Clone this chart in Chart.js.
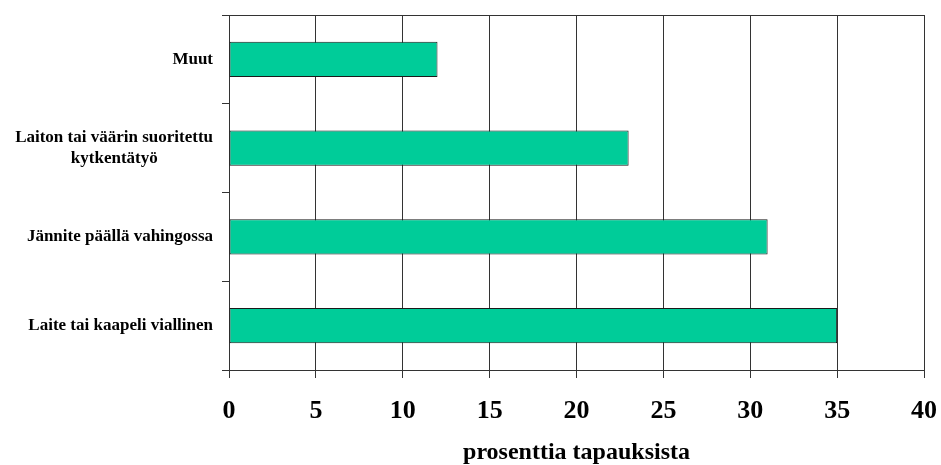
<!DOCTYPE html>
<html>
<head>
<meta charset="utf-8">
<script src="https://cdn.jsdelivr.net/npm/chart.js@4.4.1/dist/chart.umd.min.js"></script>
<style>
  html,body{margin:0;padding:0;background:#fff;}
  #wrap{width:941px;height:465px;}
</style>
</head>
<body>
<div id="wrap"><canvas id="c" width="941" height="465"></canvas></div>
<script>
// data
const categories = [
  ['Muut'],
  ['Laiton tai väärin suoritettu', 'kytkentätyö'],
  ['Jännite päällä vahingossa'],
  ['Laite tai kaapeli viallinen']
];
const values = [12, 23, 31, 35];
const xTicks = [0, 5, 10, 15, 20, 25, 30, 35, 40];
const xTitle = 'prosenttia tapauksista';

const FONT = "'Liberation Serif', 'Times New Roman', serif";
const labelFont = 'bold 17px ' + FONT;

// center shorter lines under the longest one (labels are right aligned)
const mctx = document.createElement('canvas').getContext('2d');
mctx.font = labelFont;
const nbspW = mctx.measureText('\u00a0').width || 1;
const labels = categories.map(lines=>{
  if (lines.length < 2) return lines[0];
  const w = lines.map(l=>mctx.measureText(l).width);
  const max = Math.max(...w);
  return lines.map((l,i)=>l + '\u00a0'.repeat(Math.round((max - w[i]) / 2 / nbspW)));
});

// top border of plot area
const frame = {
  id:'frame',
  afterDraw(chart){
    const {ctx, chartArea:a} = chart;
    ctx.save();
    ctx.strokeStyle = '#333'; ctx.lineWidth = 1;
    ctx.beginPath(); ctx.moveTo(a.left, a.top + .5); ctx.lineTo(a.right, a.top + .5); ctx.stroke();
    ctx.restore();
  }
};

new Chart(document.getElementById('c'), {
  type:'bar',
  data:{
    labels: labels,
    datasets:[{
      data: values,
      backgroundColor:'#00CC99',
      borderColor:'#1a1a1a',
      borderWidth:1,
      borderSkipped:false,
      categoryPercentage:1,
      barPercentage:0.395
    }]
  },
  options:{
    indexAxis:'y',
    responsive:false,
    animation:false,
    layout:{padding:{top:15, right:17, left:0, bottom:0}},
    plugins:{legend:{display:false}, tooltip:{enabled:false}},
    scales:{
      x:{
        min:0, max:40,
        afterBuildTicks: s=>{ s.ticks = xTicks.map(v=>({value:v})); },
        afterFit: s=>{ s.height = 95; s.paddingLeft = 0; s.paddingRight = 0; },
        grid:{color:'#333', lineWidth:1, tickLength:8, drawTicks:true},
        border:{color:'#333'},
        ticks:{color:'#000', padding:18, maxRotation:0, font:{family:FONT, size:26, weight:'bold'}},
        title:{display:true, text:xTitle, color:'#000', padding:{top:0, bottom:0}, font:{family:FONT, size:24, weight:'bold', lineHeight:1}}
      },
      y:{
        afterFit: s=>{ s.width = 229; s.paddingTop = 0; s.paddingBottom = 0; },
        grid:{offset:true, drawOnChartArea:false, tickLength:7, color:'#333'},
        border:{color:'#333'},
        ticks:{color:'#000', padding:9, crossAlign:'near', font:{family:FONT, size:17, weight:'bold', lineHeight:1.25}}
      }
    }
  },
  plugins:[frame]
});
</script>
</body>
</html>
